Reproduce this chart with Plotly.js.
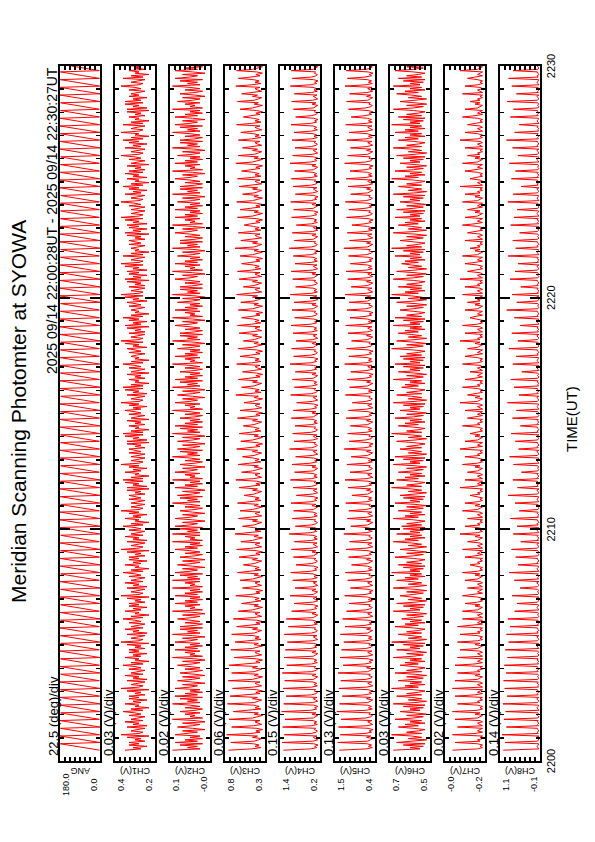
<!DOCTYPE html>
<html><head><meta charset="utf-8">
<script src="https://cdn.plot.ly/plotly-3.0.1.min.js"></script>
<style>
html,body{margin:0;padding:0;background:#fff;overflow:hidden;width:595px;height:842px;}
#wrap{position:absolute;left:0;top:0;width:842px;height:595px;transform-origin:0 0;transform:translate(0px,842px) rotate(-90deg);}
</style></head><body>
<div id="wrap"></div>
<script>
const startUTC = Date.UTC(2025, 8, 14, 22, 0, 28);
const samplesPerMinute = 18;
const channelNames = ['ANG','CH1(V)','CH2(V)','CH3(V)','CH4(V)','CH5(V)','CH6(V)','CH7(V)','CH8(V)'];
const scaleLabels = ['22.5 (deg)/div','0.03 (V)/div','0.02 (V)/div','0.06 (V)/div','0.15 (V)/div','0.13 (V)/div','0.03 (V)/div','0.02 (V)/div','0.14 (V)/div'];
const axisLow  = [0, 0.2, -0.02, 0.30, 0.2, 0.43, 0.48, -0.18, -0.06];
const axisHigh = [180, 0.4, 0.14, 0.78, 1.4, 1.47, 0.72, -0.02, 1.06];
const topLabels = ['180.0','0.4','0.1','0.8','1.4','1.5','0.7','-0.0','1.1'];
const bottomLabels = ['0.0','0.2','-0.0','0.3','0.2','0.4','0.5','-0.2','-0.1'];

const ang = [
1,37,73,108,144,179, 0,35,71,107,145,180, 2,36,72,109,143,178, 0,38,74,106,142,180, 3,34,70,110,146,177, 1,37,73,108,144,179, 0,35,71,107,145,180, 2,36,72,109,143,178, 0,38,74,106,142,180, 3,34,70,110,146,177,
0,35,71,107,145,180, 2,36,72,109,143,178, 0,38,74,106,142,180, 3,34,70,110,146,177, 1,37,73,108,144,179, 0,35,71,107,145,180, 2,36,72,109,143,178, 0,38,74,106,142,180, 3,34,70,110,146,177, 1,37,73,108,144,179,
2,36,72,109,143,178, 0,38,74,106,142,180, 3,34,70,110,146,177, 1,37,73,108,144,179, 0,35,71,107,145,180, 2,36,72,109,143,178, 0,38,74,106,142,180, 3,34,70,110,146,177, 1,37,73,108,144,179, 0,35,71,107,145,180,
0,38,74,106,142,180, 3,34,70,110,146,177, 1,37,73,108,144,179, 0,35,71,107,145,180, 2,36,72,109,143,178, 0,38,74,106,142,180, 3,34,70,110,146,177, 1,37,73,108,144,179, 0,35,71,107,145,180, 2,36,72,109,143,178,
3,34,70,110,146,177, 1,37,73,108,144,179, 0,35,71,107,145,180, 2,36,72,109,143,178, 0,38,74,106,142,180, 3,34,70,110,146,177, 1,37,73,108,144,179, 0,35,71,107,145,180, 2,36,72,109,143,178, 0,38,74,106,142,180,
1,37,73,108,144,179, 2,36,72,109,143,178, 3,34,70,110,146,177, 0,35,71,107,145,180, 0,38,74,106,142,180, 1,37,73,108,144,179, 2,36,72,109,143,178, 3,34,70,110,146,177, 0,35,71,107,145,180, 0,38,74,106,142,180,
0,35,71,107,145,180, 0,38,74,106,142,180, 1,37,73,108,144,179, 2,36,72,109,143,178, 3,34,70,110,146,177, 0,35,71,107,145,180, 0,38,74,106,142,180, 1,37,73,108,144,179, 2,36,72,109,143,178, 3,34,70,110,146,177,
2,36,72,109,143,178, 3,34,70,110,146,177, 0,35,71,107,145,180, 0,38,74,106,142,180, 1,37,73,108,144,179, 2,36,72,109,143,178, 3,34,70,110,146,177, 0,35,71,107,145,180, 0,38,74,106,142,180, 1,37,73,108,144,179,
0,38,74,106,142,180, 1,37,73,108,144,179, 2,36,72,109,143,178, 3,34,70,110,146,177, 0,35,71,107,145,180, 0,38,74,106,142,180, 1,37,73,108,144,179, 2,36,72,109,143,178, 3,34,70,110,146,177, 0,35,71,107,145,180];
const ch1 = [
.35,.27,.31,.24,.33,.28, .33,.25,.30,.27,.34,.23, .37,.28,.26,.32,.29,.25, .34,.24,.31,.28,.35,.26, .32,.29,.25,.33,.27,.30, .36,.26,.32,.23,.30,.28, .35,.27,.31,.24,.33,.28, .33,.25,.30,.27,.34,.23, .37,.28,.26,.32,.29,.25, .34,.24,.31,.28,.35,.26,
.32,.29,.25,.33,.27,.30, .36,.26,.32,.23,.30,.28, .35,.27,.31,.24,.33,.28, .33,.25,.30,.27,.34,.23, .37,.28,.26,.32,.29,.25, .34,.24,.31,.28,.35,.26, .32,.29,.25,.33,.27,.30, .36,.26,.32,.23,.30,.28, .35,.27,.31,.24,.33,.28, .33,.25,.30,.27,.34,.23,
.37,.28,.26,.32,.29,.25, .34,.24,.31,.28,.35,.26, .32,.29,.25,.33,.27,.30, .36,.26,.32,.23,.30,.28, .35,.27,.31,.24,.33,.28, .33,.25,.30,.27,.34,.23, .37,.28,.26,.32,.29,.25, .34,.24,.31,.28,.35,.26, .32,.29,.25,.33,.27,.30, .36,.26,.32,.23,.30,.28,
.35,.27,.31,.24,.33,.28, .37,.28,.26,.32,.29,.25, .32,.29,.25,.33,.27,.30, .33,.25,.30,.27,.34,.23, .34,.24,.31,.28,.35,.26, .36,.26,.32,.23,.30,.28, .35,.27,.31,.24,.33,.28, .37,.28,.26,.32,.29,.25, .32,.29,.25,.33,.27,.30, .33,.25,.30,.27,.34,.23,
.34,.24,.31,.28,.35,.26, .36,.26,.32,.23,.30,.28, .33,.25,.30,.27,.34,.23, .32,.29,.25,.33,.27,.30, .35,.27,.31,.24,.33,.28, .37,.28,.26,.32,.29,.25, .34,.24,.31,.28,.35,.26, .36,.26,.32,.23,.30,.28, .33,.25,.30,.27,.34,.23, .32,.29,.25,.33,.27,.30,
.36,.26,.32,.23,.30,.28, .32,.29,.25,.33,.27,.30, .34,.24,.31,.28,.35,.26, .37,.28,.26,.32,.29,.25, .33,.25,.30,.27,.34,.23, .35,.27,.31,.24,.33,.28, .36,.26,.32,.23,.30,.28, .32,.29,.25,.33,.27,.30, .34,.24,.31,.28,.35,.26, .37,.28,.26,.32,.29,.25,
.33,.25,.30,.27,.34,.23, .35,.27,.31,.24,.33,.28, .34,.24,.31,.28,.35,.26, .37,.28,.26,.32,.29,.25, .36,.26,.32,.23,.30,.28, .32,.29,.25,.33,.27,.30, .33,.25,.30,.27,.34,.23, .35,.27,.31,.24,.33,.28, .34,.24,.31,.28,.35,.26, .37,.28,.26,.32,.29,.25,
.32,.29,.25,.33,.27,.30, .37,.28,.26,.32,.29,.25, .35,.27,.31,.24,.33,.28, .36,.26,.32,.23,.30,.28, .34,.24,.31,.28,.35,.26, .33,.25,.30,.27,.34,.23, .32,.29,.25,.33,.27,.30, .37,.28,.26,.32,.29,.25, .35,.27,.31,.24,.33,.28, .36,.26,.32,.23,.30,.28,
.37,.28,.26,.32,.29,.25, .36,.26,.32,.23,.30,.28, .33,.25,.30,.27,.34,.23, .34,.24,.31,.28,.35,.26, .35,.27,.31,.24,.33,.28, .32,.29,.25,.33,.27,.30, .37,.28,.26,.32,.29,.25, .36,.26,.32,.23,.30,.28, .33,.25,.30,.27,.34,.23, .34,.24,.31,.28,.35,.26];
const ch2 = [
.13,.02,.07,.03,.10,.01, .12,.03,.08,.01,.06,.02, .12,.06,.03,.09,.00,.05, .11,.05,.02,.09,.00,.04, .13,.01,.06,.04,.08,.02, .10,.04,.01,.08,.02,.06, .13,.02,.07,.03,.10,.01, .12,.03,.08,.01,.06,.02, .12,.06,.03,.09,.00,.05, .11,.05,.02,.09,.00,.04,
.10,.04,.01,.08,.02,.06, .11,.05,.02,.09,.00,.04, .13,.01,.06,.04,.08,.02, .12,.03,.08,.01,.06,.02, .12,.06,.03,.09,.00,.05, .13,.02,.07,.03,.10,.01, .10,.04,.01,.08,.02,.06, .11,.05,.02,.09,.00,.04, .13,.01,.06,.04,.08,.02, .12,.03,.08,.01,.06,.02,
.12,.03,.08,.01,.06,.02, .13,.01,.06,.04,.08,.02, .13,.02,.07,.03,.10,.01, .12,.06,.03,.09,.00,.05, .11,.05,.02,.09,.00,.04, .10,.04,.01,.08,.02,.06, .12,.03,.08,.01,.06,.02, .13,.01,.06,.04,.08,.02, .13,.02,.07,.03,.10,.01, .12,.06,.03,.09,.00,.05,
.12,.06,.03,.09,.00,.05, .10,.04,.01,.08,.02,.06, .13,.02,.07,.03,.10,.01, .11,.05,.02,.09,.00,.04, .12,.03,.08,.01,.06,.02, .13,.01,.06,.04,.08,.02, .12,.06,.03,.09,.00,.05, .10,.04,.01,.08,.02,.06, .13,.02,.07,.03,.10,.01, .11,.05,.02,.09,.00,.04,
.11,.05,.02,.09,.00,.04, .13,.02,.07,.03,.10,.01, .12,.03,.08,.01,.06,.02, .10,.04,.01,.08,.02,.06, .13,.01,.06,.04,.08,.02, .12,.06,.03,.09,.00,.05, .11,.05,.02,.09,.00,.04, .13,.02,.07,.03,.10,.01, .12,.03,.08,.01,.06,.02, .10,.04,.01,.08,.02,.06,
.13,.01,.06,.04,.08,.02, .12,.03,.08,.01,.06,.02, .11,.05,.02,.09,.00,.04, .13,.02,.07,.03,.10,.01, .10,.04,.01,.08,.02,.06, .12,.06,.03,.09,.00,.05, .13,.01,.06,.04,.08,.02, .12,.03,.08,.01,.06,.02, .11,.05,.02,.09,.00,.04, .13,.02,.07,.03,.10,.01,
.10,.04,.01,.08,.02,.06, .12,.06,.03,.09,.00,.05, .13,.01,.06,.04,.08,.02, .12,.03,.08,.01,.06,.02, .11,.05,.02,.09,.00,.04, .13,.02,.07,.03,.10,.01, .10,.04,.01,.08,.02,.06, .12,.06,.03,.09,.00,.05, .13,.01,.06,.04,.08,.02, .12,.03,.08,.01,.06,.02,
.12,.03,.08,.01,.06,.02, .11,.05,.02,.09,.00,.04, .13,.02,.07,.03,.10,.01, .10,.04,.01,.08,.02,.06, .12,.06,.03,.09,.00,.05, .13,.01,.06,.04,.08,.02, .12,.03,.08,.01,.06,.02, .11,.05,.02,.09,.00,.04, .13,.02,.07,.03,.10,.01, .10,.04,.01,.08,.02,.06,
.13,.02,.07,.03,.10,.01, .12,.06,.03,.09,.00,.05, .12,.03,.08,.01,.06,.02, .13,.01,.06,.04,.08,.02, .11,.05,.02,.09,.00,.04, .10,.04,.01,.08,.02,.06, .13,.02,.07,.03,.10,.01, .12,.06,.03,.09,.00,.05, .12,.03,.08,.01,.06,.02, .13,.01,.06,.04,.08,.02];
const ch3 = [
.74,.46,.35,.42,.37,.44, .71,.43,.38,.34,.45,.39, .76,.47,.36,.41,.33,.40, .70,.44,.34,.39,.42,.36, .73,.45,.37,.33,.43,.38, .68,.46,.35,.42,.37,.44, .75,.43,.38,.34,.45,.39, .72,.47,.36,.41,.33,.40, .69,.44,.34,.39,.42,.36, .74,.45,.37,.33,.43,.38,
.70,.43,.38,.34,.45,.39, .73,.47,.36,.41,.33,.40, .67,.44,.34,.39,.42,.36, .71,.45,.37,.33,.43,.38, .66,.46,.35,.42,.37,.44, .70,.43,.38,.34,.45,.39, .64,.47,.36,.41,.33,.40, .68,.44,.34,.39,.42,.36, .62,.45,.37,.33,.43,.38, .58,.46,.35,.42,.37,.44,
.65,.47,.36,.41,.33,.40, .57,.44,.34,.39,.42,.36, .60,.45,.37,.33,.43,.38, .63,.46,.35,.42,.37,.44, .56,.43,.38,.34,.45,.39, .61,.47,.36,.41,.33,.40, .64,.44,.34,.39,.42,.36, .59,.45,.37,.33,.43,.38, .66,.46,.35,.42,.37,.44, .57,.43,.38,.34,.45,.39,
.62,.44,.34,.39,.42,.36, .60,.45,.37,.33,.43,.38, .63,.46,.35,.42,.37,.44, .55,.43,.38,.34,.45,.39, .61,.47,.36,.41,.33,.40, .65,.44,.34,.39,.42,.36, .58,.45,.37,.33,.43,.38, .62,.46,.35,.42,.37,.44, .57,.43,.38,.34,.45,.39, .64,.47,.36,.41,.33,.40,
.59,.45,.37,.33,.43,.38, .61,.46,.35,.42,.37,.44, .56,.43,.38,.34,.45,.39, .63,.47,.36,.41,.33,.40, .60,.44,.34,.39,.42,.36, .55,.45,.37,.33,.43,.38, .65,.46,.35,.42,.37,.44, .58,.43,.38,.34,.45,.39, .62,.47,.36,.41,.33,.40, .57,.44,.34,.39,.42,.36,
.64,.46,.35,.42,.37,.44, .60,.47,.36,.41,.33,.40, .62,.45,.37,.33,.43,.38, .56,.43,.38,.34,.45,.39, .61,.44,.34,.39,.42,.36, .63,.46,.35,.42,.37,.44, .58,.47,.36,.41,.33,.40, .62,.45,.37,.33,.43,.38, .59,.43,.38,.34,.45,.39, .64,.44,.34,.39,.42,.36,
.56,.43,.38,.34,.45,.39, .61,.44,.34,.39,.42,.36, .63,.46,.35,.42,.37,.44, .58,.47,.36,.41,.33,.40, .60,.45,.37,.33,.43,.38, .66,.43,.38,.34,.45,.39, .59,.44,.34,.39,.42,.36, .62,.46,.35,.42,.37,.44, .55,.47,.36,.41,.33,.40, .63,.45,.37,.33,.43,.38,
.60,.47,.36,.41,.33,.40, .64,.45,.37,.33,.43,.38, .57,.43,.38,.34,.45,.39, .61,.44,.34,.39,.42,.36, .63,.46,.35,.42,.37,.44, .58,.47,.36,.41,.33,.40, .65,.45,.37,.33,.43,.38, .62,.43,.38,.34,.45,.39, .57,.44,.34,.39,.42,.36, .62,.46,.35,.42,.37,.44,
.59,.44,.34,.39,.42,.36, .64,.46,.35,.42,.37,.44, .56,.47,.36,.41,.33,.40, .60,.45,.37,.33,.43,.38, .63,.43,.38,.34,.45,.39, .58,.44,.34,.39,.42,.36, .65,.46,.35,.42,.37,.44, .62,.47,.36,.41,.33,.40, .64,.45,.37,.33,.43,.38, .67,.43,.38,.34,.45,.39];
const ch4 = [
1.30,.48,.30,.36,.26,.39, 1.34,.42,.27,.34,.40,.29, 1.27,.46,.31,.28,.37,.33, 1.32,.45,.28,.38,.30,.41, 1.25,.40,.33,.27,.44,.32, 1.35,.48,.30,.36,.26,.39, 1.29,.42,.27,.34,.40,.29, 1.22,.46,.31,.28,.37,.33, 1.31,.45,.28,.38,.30,.41, 1.26,.40,.33,.27,.44,.32,
1.33,.46,.31,.28,.37,.33, 1.20,.45,.28,.38,.30,.41, 1.28,.40,.33,.27,.44,.32, 1.24,.48,.30,.36,.26,.39, 1.18,.42,.27,.34,.40,.29, 1.27,.46,.31,.28,.37,.33, 1.15,.45,.28,.38,.30,.41, 1.21,.40,.33,.27,.44,.32, 1.05,.48,.30,.36,.26,.39, .98,.42,.27,.34,.40,.29,
1.10,.40,.33,.27,.44,.32, .95,.42,.27,.34,.40,.29, 1.02,.45,.28,.38,.30,.41, 1.08,.48,.30,.36,.26,.39, .92,.46,.31,.28,.37,.33, 1.00,.40,.33,.27,.44,.32, 1.06,.42,.27,.34,.40,.29, .97,.45,.28,.38,.30,.41, 1.12,.48,.30,.36,.26,.39, .94,.46,.31,.28,.37,.33,
1.03,.45,.28,.38,.30,.41, .99,.40,.33,.27,.44,.32, 1.07,.48,.30,.36,.26,.39, .91,.42,.27,.34,.40,.29, 1.01,.46,.31,.28,.37,.33, 1.09,.45,.28,.38,.30,.41, .96,.40,.33,.27,.44,.32, 1.04,.48,.30,.36,.26,.39, .93,.42,.27,.34,.40,.29, 1.11,.46,.31,.28,.37,.33,
.98,.42,.27,.34,.40,.29, 1.02,.46,.31,.28,.37,.33, .95,.45,.28,.38,.30,.41, 1.06,.40,.33,.27,.44,.32, 1.00,.48,.30,.36,.26,.39, .90,.42,.27,.34,.40,.29, 1.08,.46,.31,.28,.37,.33, .97,.45,.28,.38,.30,.41, 1.03,.40,.33,.27,.44,.32, .94,.48,.30,.36,.26,.39,
1.10,.48,.30,.36,.26,.39, .99,.46,.31,.28,.37,.33, 1.05,.40,.33,.27,.44,.32, .92,.42,.27,.34,.40,.29, 1.01,.45,.28,.38,.30,.41, 1.07,.48,.30,.36,.26,.39, .96,.46,.31,.28,.37,.33, 1.04,.40,.33,.27,.44,.32, .98,.42,.27,.34,.40,.29, 1.09,.45,.28,.38,.30,.41,
.93,.46,.31,.28,.37,.33, 1.02,.40,.33,.27,.44,.32, 1.06,.42,.27,.34,.40,.29, .95,.45,.28,.38,.30,.41, 1.00,.48,.30,.36,.26,.39, 1.12,.46,.31,.28,.37,.33, .97,.40,.33,.27,.44,.32, 1.03,.42,.27,.34,.40,.29, .91,.45,.28,.38,.30,.41, 1.05,.48,.30,.36,.26,.39,
.99,.40,.33,.27,.44,.32, 1.08,.48,.30,.36,.26,.39, .94,.42,.27,.34,.40,.29, 1.01,.46,.31,.28,.37,.33, 1.06,.45,.28,.38,.30,.41, .96,.40,.33,.27,.44,.32, 1.10,.48,.30,.36,.26,.39, 1.02,.42,.27,.34,.40,.29, .95,.46,.31,.28,.37,.33, 1.04,.45,.28,.38,.30,.41,
.98,.45,.28,.38,.30,.41, 1.07,.48,.30,.36,.26,.39, .93,.46,.31,.28,.37,.33, 1.00,.40,.33,.27,.44,.32, 1.05,.42,.27,.34,.40,.29, .97,.45,.28,.38,.30,.41, 1.09,.48,.30,.36,.26,.39, 1.03,.46,.31,.28,.37,.33, 1.06,.40,.33,.27,.44,.32, 1.11,.42,.27,.34,.40,.29];
const ch5 = [
1.36,.66,.50,.60,.52,.63, 1.40,.62,.55,.49,.65,.54, 1.33,.69,.52,.58,.48,.61, 1.38,.64,.49,.56,.62,.51, 1.31,.67,.53,.50,.59,.55, 1.42,.66,.50,.60,.52,.63, 1.35,.62,.55,.49,.65,.54, 1.28,.69,.52,.58,.48,.61, 1.37,.64,.49,.56,.62,.51, 1.32,.67,.53,.50,.59,.55,
1.39,.62,.55,.49,.65,.54, 1.26,.69,.52,.58,.48,.61, 1.34,.64,.49,.56,.62,.51, 1.30,.67,.53,.50,.59,.55, 1.24,.66,.50,.60,.52,.63, 1.33,.62,.55,.49,.65,.54, 1.21,.69,.52,.58,.48,.61, 1.27,.64,.49,.56,.62,.51, 1.17,.67,.53,.50,.59,.55, 1.10,.66,.50,.60,.52,.63,
1.22,.69,.52,.58,.48,.61, 1.07,.64,.49,.56,.62,.51, 1.14,.67,.53,.50,.59,.55, 1.20,.66,.50,.60,.52,.63, 1.04,.62,.55,.49,.65,.54, 1.12,.69,.52,.58,.48,.61, 1.18,.64,.49,.56,.62,.51, 1.09,.67,.53,.50,.59,.55, 1.24,.66,.50,.60,.52,.63, 1.06,.62,.55,.49,.65,.54,
1.15,.64,.49,.56,.62,.51, 1.11,.67,.53,.50,.59,.55, 1.19,.66,.50,.60,.52,.63, 1.03,.62,.55,.49,.65,.54, 1.13,.69,.52,.58,.48,.61, 1.21,.64,.49,.56,.62,.51, 1.08,.67,.53,.50,.59,.55, 1.16,.66,.50,.60,.52,.63, 1.05,.62,.55,.49,.65,.54, 1.23,.69,.52,.58,.48,.61,
1.10,.67,.53,.50,.59,.55, 1.14,.66,.50,.60,.52,.63, 1.07,.62,.55,.49,.65,.54, 1.18,.69,.52,.58,.48,.61, 1.12,.64,.49,.56,.62,.51, 1.02,.67,.53,.50,.59,.55, 1.20,.66,.50,.60,.52,.63, 1.09,.62,.55,.49,.65,.54, 1.15,.69,.52,.58,.48,.61, 1.06,.64,.49,.56,.62,.51,
1.22,.66,.50,.60,.52,.63, 1.11,.69,.52,.58,.48,.61, 1.17,.67,.53,.50,.59,.55, 1.04,.62,.55,.49,.65,.54, 1.13,.64,.49,.56,.62,.51, 1.19,.66,.50,.60,.52,.63, 1.08,.69,.52,.58,.48,.61, 1.16,.67,.53,.50,.59,.55, 1.10,.62,.55,.49,.65,.54, 1.21,.64,.49,.56,.62,.51,
1.05,.62,.55,.49,.65,.54, 1.14,.64,.49,.56,.62,.51, 1.18,.66,.50,.60,.52,.63, 1.07,.69,.52,.58,.48,.61, 1.12,.67,.53,.50,.59,.55, 1.24,.62,.55,.49,.65,.54, 1.09,.64,.49,.56,.62,.51, 1.15,.66,.50,.60,.52,.63, 1.03,.69,.52,.58,.48,.61, 1.17,.67,.53,.50,.59,.55,
1.11,.69,.52,.58,.48,.61, 1.20,.67,.53,.50,.59,.55, 1.06,.62,.55,.49,.65,.54, 1.13,.64,.49,.56,.62,.51, 1.18,.66,.50,.60,.52,.63, 1.08,.69,.52,.58,.48,.61, 1.22,.67,.53,.50,.59,.55, 1.14,.62,.55,.49,.65,.54, 1.07,.64,.49,.56,.62,.51, 1.16,.66,.50,.60,.52,.63,
1.10,.64,.49,.56,.62,.51, 1.19,.66,.50,.60,.52,.63, 1.05,.69,.52,.58,.48,.61, 1.12,.67,.53,.50,.59,.55, 1.17,.62,.55,.49,.65,.54, 1.09,.64,.49,.56,.62,.51, 1.21,.66,.50,.60,.52,.63, 1.15,.69,.52,.58,.48,.61, 1.18,.67,.53,.50,.59,.55, 1.23,.62,.55,.49,.65,.54];
const ch6 = [
.70,.54,.60,.52,.64,.51, .68,.57,.50,.61,.53,.59, .71,.53,.62,.55,.51,.58, .67,.55,.63,.51,.60,.53, .69,.58,.52,.62,.50,.57, .66,.54,.60,.52,.64,.51, .70,.57,.50,.61,.53,.59, .68,.53,.62,.55,.51,.58, .71,.55,.63,.51,.60,.53, .67,.58,.52,.62,.50,.57,
.69,.53,.62,.55,.51,.58, .66,.55,.63,.51,.60,.53, .70,.58,.52,.62,.50,.57, .68,.54,.60,.52,.64,.51, .71,.57,.50,.61,.53,.59, .67,.53,.62,.55,.51,.58, .69,.55,.63,.51,.60,.53, .65,.58,.52,.62,.50,.57, .70,.54,.60,.52,.64,.51, .68,.57,.50,.61,.53,.59,
.66,.58,.52,.62,.50,.57, .70,.57,.50,.61,.53,.59, .68,.55,.63,.51,.60,.53, .71,.54,.60,.52,.64,.51, .67,.53,.62,.55,.51,.58, .69,.58,.52,.62,.50,.57, .66,.57,.50,.61,.53,.59, .70,.55,.63,.51,.60,.53, .68,.54,.60,.52,.64,.51, .65,.53,.62,.55,.51,.58,
.70,.55,.63,.51,.60,.53, .67,.58,.52,.62,.50,.57, .69,.54,.60,.52,.64,.51, .66,.57,.50,.61,.53,.59, .71,.53,.62,.55,.51,.58, .68,.55,.63,.51,.60,.53, .67,.58,.52,.62,.50,.57, .70,.54,.60,.52,.64,.51, .69,.57,.50,.61,.53,.59, .66,.53,.62,.55,.51,.58,
.68,.57,.50,.61,.53,.59, .71,.53,.62,.55,.51,.58, .67,.55,.63,.51,.60,.53, .69,.58,.52,.62,.50,.57, .66,.54,.60,.52,.64,.51, .70,.57,.50,.61,.53,.59, .68,.53,.62,.55,.51,.58, .65,.55,.63,.51,.60,.53, .70,.58,.52,.62,.50,.57, .67,.54,.60,.52,.64,.51,
.69,.54,.60,.52,.64,.51, .66,.53,.62,.55,.51,.58, .71,.58,.52,.62,.50,.57, .68,.57,.50,.61,.53,.59, .67,.55,.63,.51,.60,.53, .70,.54,.60,.52,.64,.51, .69,.53,.62,.55,.51,.58, .66,.58,.52,.62,.50,.57, .68,.57,.50,.61,.53,.59, .71,.55,.63,.51,.60,.53,
.67,.53,.62,.55,.51,.58, .70,.58,.52,.62,.50,.57, .68,.57,.50,.61,.53,.59, .65,.55,.63,.51,.60,.53, .69,.54,.60,.52,.64,.51, .71,.53,.62,.55,.51,.58, .66,.58,.52,.62,.50,.57, .70,.57,.50,.61,.53,.59, .67,.55,.63,.51,.60,.53, .69,.54,.60,.52,.64,.51,
.68,.58,.52,.62,.50,.57, .66,.54,.60,.52,.64,.51, .70,.57,.50,.61,.53,.59, .67,.53,.62,.55,.51,.58, .71,.55,.63,.51,.60,.53, .69,.58,.52,.62,.50,.57, .66,.54,.60,.52,.64,.51, .68,.57,.50,.61,.53,.59, .70,.53,.62,.55,.51,.58, .67,.55,.63,.51,.60,.53,
.69,.55,.63,.51,.60,.53, .71,.54,.60,.52,.64,.51, .67,.53,.62,.55,.51,.58, .70,.58,.52,.62,.50,.57, .66,.57,.50,.61,.53,.59, .68,.55,.63,.51,.60,.53, .70,.54,.60,.52,.64,.51, .67,.53,.62,.55,.51,.58, .69,.58,.52,.62,.50,.57, .71,.57,.50,.61,.53,.59];
const ch7 = [
-.05,-.15,-.17,-.16,-.17,-.15, -.06,-.16,-.15,-.17,-.16,-.17, -.05,-.14,-.17,-.15,-.16,-.17, -.07,-.17,-.16,-.15,-.17,-.16, -.06,-.15,-.16,-.17,-.14,-.16, -.05,-.15,-.17,-.16,-.17,-.15, -.07,-.16,-.15,-.17,-.16,-.17, -.06,-.14,-.17,-.15,-.16,-.17, -.05,-.17,-.16,-.15,-.17,-.16, -.06,-.15,-.16,-.17,-.14,-.16,
-.07,-.16,-.15,-.17,-.16,-.17, -.06,-.14,-.17,-.15,-.16,-.17, -.07,-.17,-.16,-.15,-.17,-.16, -.08,-.15,-.16,-.17,-.14,-.16, -.07,-.15,-.17,-.16,-.17,-.15, -.08,-.16,-.15,-.17,-.16,-.17, -.07,-.14,-.17,-.15,-.16,-.17, -.09,-.17,-.16,-.15,-.17,-.16, -.09,-.15,-.16,-.17,-.14,-.16, -.10,-.15,-.17,-.16,-.17,-.15,
-.09,-.14,-.17,-.15,-.16,-.17, -.11,-.17,-.16,-.15,-.17,-.16, -.10,-.15,-.16,-.17,-.14,-.16, -.09,-.15,-.17,-.16,-.17,-.15, -.12,-.16,-.15,-.17,-.16,-.17, -.10,-.14,-.17,-.15,-.16,-.17, -.09,-.17,-.16,-.15,-.17,-.16, -.11,-.15,-.16,-.17,-.14,-.16, -.08,-.15,-.17,-.16,-.17,-.15, -.10,-.16,-.15,-.17,-.16,-.17,
-.11,-.17,-.16,-.15,-.17,-.16, -.09,-.15,-.16,-.17,-.14,-.16, -.10,-.15,-.17,-.16,-.17,-.15, -.12,-.16,-.15,-.17,-.16,-.17, -.08,-.14,-.17,-.15,-.16,-.17, -.10,-.17,-.16,-.15,-.17,-.16, -.11,-.15,-.16,-.17,-.14,-.16, -.09,-.15,-.17,-.16,-.17,-.15, -.10,-.16,-.15,-.17,-.16,-.17, -.08,-.14,-.17,-.15,-.16,-.17,
-.10,-.15,-.16,-.17,-.14,-.16, -.12,-.15,-.17,-.16,-.17,-.15, -.09,-.16,-.15,-.17,-.16,-.17, -.11,-.14,-.17,-.15,-.16,-.17, -.10,-.17,-.16,-.15,-.17,-.16, -.08,-.15,-.16,-.17,-.14,-.16, -.11,-.15,-.17,-.16,-.17,-.15, -.09,-.16,-.15,-.17,-.16,-.17, -.10,-.14,-.17,-.15,-.16,-.17, -.12,-.17,-.16,-.15,-.17,-.16,
-.09,-.15,-.17,-.16,-.17,-.15, -.10,-.14,-.17,-.15,-.16,-.17, -.11,-.15,-.16,-.17,-.14,-.16, -.08,-.16,-.15,-.17,-.16,-.17, -.10,-.17,-.16,-.15,-.17,-.16, -.09,-.15,-.17,-.16,-.17,-.15, -.12,-.14,-.17,-.15,-.16,-.17, -.10,-.15,-.16,-.17,-.14,-.16, -.11,-.16,-.15,-.17,-.16,-.17, -.09,-.17,-.16,-.15,-.17,-.16,
-.10,-.16,-.15,-.17,-.16,-.17, -.08,-.17,-.16,-.15,-.17,-.16, -.11,-.15,-.17,-.16,-.17,-.15, -.10,-.14,-.17,-.15,-.16,-.17, -.09,-.15,-.16,-.17,-.14,-.16, -.12,-.16,-.15,-.17,-.16,-.17, -.10,-.17,-.16,-.15,-.17,-.16, -.11,-.15,-.17,-.16,-.17,-.15, -.09,-.14,-.17,-.15,-.16,-.17, -.10,-.15,-.16,-.17,-.14,-.16,
-.11,-.14,-.17,-.15,-.16,-.17, -.09,-.15,-.16,-.17,-.14,-.16, -.10,-.16,-.15,-.17,-.16,-.17, -.08,-.17,-.16,-.15,-.17,-.16, -.12,-.15,-.17,-.16,-.17,-.15, -.10,-.14,-.17,-.15,-.16,-.17, -.09,-.15,-.16,-.17,-.14,-.16, -.11,-.16,-.15,-.17,-.16,-.17, -.10,-.17,-.16,-.15,-.17,-.16, -.08,-.15,-.17,-.16,-.17,-.15,
-.10,-.17,-.16,-.15,-.17,-.16, -.11,-.15,-.17,-.16,-.17,-.15, -.09,-.14,-.17,-.15,-.16,-.17, -.10,-.15,-.16,-.17,-.14,-.16, -.12,-.16,-.15,-.17,-.16,-.17, -.09,-.17,-.16,-.15,-.17,-.16, -.10,-.15,-.17,-.16,-.17,-.15, -.11,-.14,-.17,-.15,-.16,-.17, -.08,-.15,-.16,-.17,-.14,-.16, -.10,-.16,-.15,-.17,-.16,-.17];
const ch8 = [
.97,-.03,.00,.02,-.01,-.02, .92,.01,-.02,-.01,.03,-.03, 1.00,-.01,.02,-.03,.00,.01, .88,-.02,.01,-.03,.02,-.01, .95,.00,-.03,.01,-.02,.00, .90,-.03,.00,.02,-.01,-.02, .98,.01,-.02,-.01,.03,-.03, .86,-.01,.02,-.03,.00,.01, .93,-.02,.01,-.03,.02,-.01, .96,.00,-.03,.01,-.02,.00,
.89,-.01,.02,-.03,.00,.01, .94,-.02,.01,-.03,.02,-.01, .85,.00,-.03,.01,-.02,.00, .91,-.03,.00,.02,-.01,-.02, .82,.01,-.02,-.01,.03,-.03, .88,-.01,.02,-.03,.00,.01, .78,-.02,.01,-.03,.02,-.01, .84,.00,-.03,.01,-.02,.00, .65,-.03,.00,.02,-.01,-.02, .58,.01,-.02,-.01,.03,-.03,
.72,.00,-.03,.01,-.02,.00, .50,.01,-.02,-.01,.03,-.03, .66,-.02,.01,-.03,.02,-.01, .80,-.03,.00,.02,-.01,-.02, .55,-.01,.02,-.03,.00,.01, .62,.00,-.03,.01,-.02,.00, .74,.01,-.02,-.01,.03,-.03, .48,-.02,.01,-.03,.02,-.01, .69,-.03,.00,.02,-.01,-.02, .58,-.01,.02,-.03,.00,.01,
.77,-.02,.01,-.03,.02,-.01, .52,.00,-.03,.01,-.02,.00, .64,-.03,.00,.02,-.01,-.02, .83,.01,-.02,-.01,.03,-.03, .57,-.01,.02,-.03,.00,.01, .70,-.02,.01,-.03,.02,-.01, .46,.00,-.03,.01,-.02,.00, .68,-.03,.00,.02,-.01,-.02, .79,.01,-.02,-.01,.03,-.03, .54,-.01,.02,-.03,.00,.01,
.63,.01,-.02,-.01,.03,-.03, .75,-.01,.02,-.03,.00,.01, .49,-.02,.01,-.03,.02,-.01, .71,.00,-.03,.01,-.02,.00, .60,-.03,.00,.02,-.01,-.02, .85,.01,-.02,-.01,.03,-.03, .53,-.01,.02,-.03,.00,.01, .67,-.02,.01,-.03,.02,-.01, .76,.00,-.03,.01,-.02,.00, .45,-.03,.00,.02,-.01,-.02,
.70,-.03,.00,.02,-.01,-.02, .61,-.01,.02,-.03,.00,.01, .81,.00,-.03,.01,-.02,.00, .56,.01,-.02,-.01,.03,-.03, .73,-.02,.01,-.03,.02,-.01, .50,-.03,.00,.02,-.01,-.02, .66,-.01,.02,-.03,.00,.01, .87,.00,-.03,.01,-.02,.00, .59,.01,-.02,-.01,.03,-.03, .72,-.02,.01,-.03,.02,-.01,
.48,-.01,.02,-.03,.00,.01, .78,.00,-.03,.01,-.02,.00, .64,.01,-.02,-.01,.03,-.03, .55,-.02,.01,-.03,.02,-.01, .83,-.03,.00,.02,-.01,-.02, .62,-.01,.02,-.03,.00,.01, .70,.00,-.03,.01,-.02,.00, .51,.01,-.02,-.01,.03,-.03, .76,-.02,.01,-.03,.02,-.01, .67,-.03,.00,.02,-.01,-.02,
.58,.00,-.03,.01,-.02,.00, .84,-.03,.00,.02,-.01,-.02, .69,.01,-.02,-.01,.03,-.03, .47,-.01,.02,-.03,.00,.01, .74,-.02,.01,-.03,.02,-.01, .63,.00,-.03,.01,-.02,.00, .80,-.03,.00,.02,-.01,-.02, .56,.01,-.02,-.01,.03,-.03, .71,-.01,.02,-.03,.00,.01, .88,-.02,.01,-.03,.02,-.01,
.65,-.02,.01,-.03,.02,-.01, .52,-.03,.00,.02,-.01,-.02, .77,-.01,.02,-.03,.00,.01, .68,.00,-.03,.01,-.02,.00, .86,.01,-.02,-.01,.03,-.03, .60,-.02,.01,-.03,.02,-.01, .73,-.03,.00,.02,-.01,-.02, .82,-.01,.02,-.03,.00,.01, .69,.00,-.03,.01,-.02,.00, .90,.01,-.02,-.01,.03,-.03];
const seriesList = [ang, ch1, ch2, ch3, ch4, ch5, ch6, ch7, ch8];

const W = 842, H = 595;
const plotLeft = 81, plotRight = 776;
const panelTop0 = 60, panelStep = 55, panelHeight = 40;
const xDomain = [plotLeft / W, plotRight / W];
const font = 'Liberation Sans, Arial, Helvetica, sans-serif';

const traces = [], annotations = [];
const layout = {
  width: W, height: H, margin: {l:0, r:0, t:0, b:0},
  paper_bgcolor: '#fff', plot_bgcolor: '#fff', showlegend: false,
  font: {family: font, color: '#000'}
};

seriesList.forEach((vals, i) => {
  const n = i + 1;
  const xa = 'xaxis' + (n === 1 ? '' : n), ya = 'yaxis' + (n === 1 ? '' : n);
  const xr = 'x' + (n === 1 ? '' : n), yr = 'y' + (n === 1 ? '' : n);
  const times = vals.map((v, k) => startUTC + k * 60000 / samplesPerMinute);
  traces.push({x: times, y: vals, type: 'scatter', mode: 'lines',
    line: {color: '#ff0000', width: 1}, xaxis: xr, yaxis: yr, hoverinfo: 'skip'});
  const top = panelTop0 + i * panelStep;
  const isLast = i === seriesList.length - 1;
  layout[xa] = {
    domain: xDomain, anchor: yr, type: 'date',
    range: ['2025-09-14 22:00:00', '2025-09-14 22:30:00'],
    tick0: '2025-09-14 22:00:00', dtick: 600000,
    ticks: 'inside', ticklen: 10, tickwidth: 2, tickcolor: '#000',
    minor: {dtick: 60000, tick0: '2025-09-14 22:00:00', ticks: 'inside', ticklen: 4, tickwidth: 1.5, tickcolor: '#000', showgrid: false},
    showline: true, linewidth: 2, linecolor: '#000', mirror: 'allticks',
    showgrid: false, zeroline: false,
    showticklabels: isLast, tickformat: '%H%M',
    tickfont: {family: font, size: 11, color: '#000'}
  };
  layout[ya] = {
    domain: [1 - (top + panelHeight) / H, 1 - top / H], anchor: xr,
    range: [axisLow[i], axisHigh[i]],
    tick0: axisLow[i], dtick: (axisHigh[i] - axisLow[i]) / 8,
    ticks: 'inside', ticklen: 4, tickwidth: 1.5, tickcolor: '#000',
    showline: true, linewidth: 2, linecolor: '#000', mirror: 'allticks',
    showgrid: false, zeroline: false, showticklabels: false
  };
  annotations.push({xref: 'paper', yref: 'paper', x: (plotLeft + 4) / W, y: 1 - (top - 7) / H,
    xanchor: 'left', yanchor: 'middle', text: scaleLabels[i], showarrow: false, borderpad: 0,
    font: {family: font, size: 13, color: '#000'}});
  annotations.push({xref: 'paper', yref: yr, x: 71 / W, y: (axisLow[i] + axisHigh[i]) / 2,
    xanchor: 'center', yanchor: 'middle', textangle: -90, text: channelNames[i], showarrow: false, borderpad: 0,
    font: {family: font, size: 9, color: '#000'}});
  annotations.push({xref: 'paper', yref: yr, x: 58 / W, y: axisHigh[i],
    xanchor: 'center', yanchor: 'top', text: topLabels[i], showarrow: false, borderpad: 0,
    font: {family: font, size: 9, color: '#000'}});
  annotations.push({xref: 'paper', yref: yr, x: 58 / W, y: axisLow[i],
    xanchor: 'center', yanchor: 'bottom', text: bottomLabels[i], showarrow: false, borderpad: 0,
    font: {family: font, size: 9, color: '#000'}});
});

annotations.push({xref: 'paper', yref: 'paper', x: 430 / W, y: 1 - 18 / H, xanchor: 'center', yanchor: 'middle',
  text: 'Meridian Scanning Photomter at SYOWA', showarrow: false, font: {family: font, size: 21, color: '#000'}});
annotations.push({xref: 'paper', yref: 'paper', x: plotRight / W, y: 1 - 52 / H, xanchor: 'right', yanchor: 'middle',
  text: '2025 09/14 22:00:28UT - 2025 09/14 22:30:27UT', showarrow: false, borderpad: 0, font: {family: font, size: 14, color: '#000'}});
annotations.push({xref: 'paper', yref: 'paper', x: 423 / W, y: 1 - 571 / H, xanchor: 'center', yanchor: 'middle',
  text: 'TIME(UT)', showarrow: false, font: {family: font, size: 15, color: '#000'}});
layout.annotations = annotations;

Plotly.newPlot('wrap', traces, layout, {staticPlot: true, displayModeBar: false});
</script>
</body></html>
